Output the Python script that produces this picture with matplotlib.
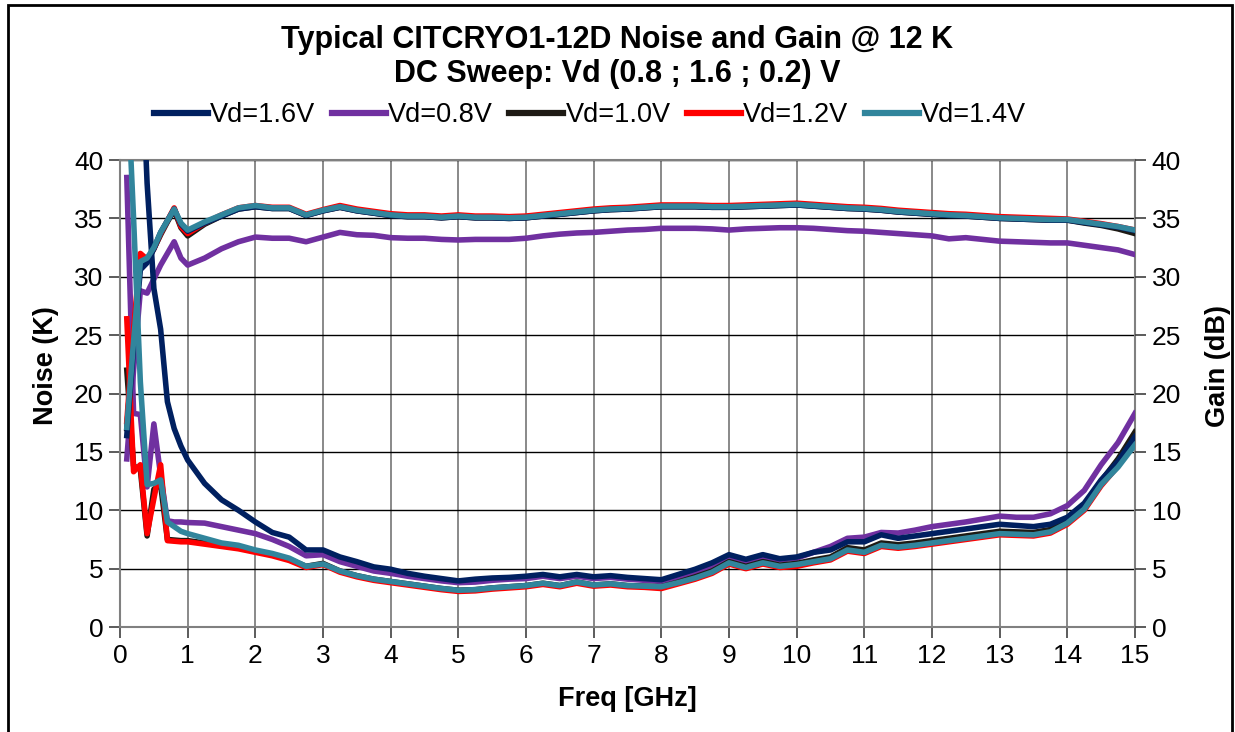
import matplotlib
matplotlib.use("Agg")
import matplotlib.pyplot as plt
from matplotlib.patches import Rectangle
from matplotlib.lines import Line2D

plt.rcParams['font.family'] = ['Liberation Sans', 'DejaVu Sans']

# frequency points (GHz)
freq = [0.1, 0.2, 0.3, 0.4, 0.5, 0.6, 0.7, 0.8, 0.9, 1.0,
        1.25, 1.5, 1.75, 2.0, 2.25, 2.5, 2.75, 3.0, 3.25, 3.5, 3.75, 4.0,
        4.25, 4.5, 4.75, 5.0, 5.25, 5.5, 5.75, 6.0, 6.25, 6.5, 6.75, 7.0,
        7.25, 7.5, 7.75, 8.0, 8.25, 8.5, 8.75, 9.0, 9.25, 9.5, 9.75, 10.0,
        10.25, 10.5, 10.75, 11.0, 11.25, 11.5, 11.75, 12.0, 12.25, 12.5, 12.75, 13.0,
        13.25, 13.5, 13.75, 14.0, 14.25, 14.5, 14.75, 15.0]

# noise temperature (K)
noise_16 = [80, 68, 52, 38, 29, 25.5, 19.3, 17.0, 15.5, 14.3,
            12.3, 10.9, 10.0, 9.0, 8.1, 7.7, 6.6, 6.6, 6.0, 5.6, 5.15, 4.95,
            4.6, 4.35, 4.15, 3.95, 4.1, 4.2, 4.25, 4.35, 4.5, 4.3, 4.5, 4.3,
            4.4, 4.25, 4.15, 4.05, 4.5, 4.95, 5.5, 6.2, 5.8, 6.2, 5.85, 6.0,
            6.4, 6.6, 7.3, 7.3, 7.9, 7.6, 7.8, 8.0, 8.2, 8.4, 8.6, 8.8,
            8.7, 8.6, 8.8, 9.4, 10.6, 12.6, 14.2, 16.3]
noise_08 = [38.5, 18.3, 18.2, 12.0, 17.4, 13.0, 9.1, 9.0, 9.0, 8.95,
            8.9, 8.6, 8.3, 8.0, 7.5, 6.9, 6.1, 6.2, 5.6, 5.2, 4.8, 4.6,
            4.35, 4.15, 3.95, 3.8, 3.85, 4.0, 4.1, 4.15, 4.35, 4.15, 4.35, 4.15,
            4.25, 4.1, 4.0, 3.9, 4.3, 4.7, 5.2, 6.0, 5.6, 6.0, 5.75, 5.9,
            6.4, 6.9, 7.6, 7.7, 8.1, 8.05, 8.3, 8.6, 8.8, 9.0, 9.25, 9.5,
            9.4, 9.4, 9.7, 10.4, 11.7, 13.9, 15.8, 18.3]
noise_10 = [22.0, 13.8, 13.5, 7.8, 11.8, 12.2, 7.5, 7.45, 7.4, 7.4,
            7.2, 7.0, 6.8, 6.5, 6.2, 5.8, 5.2, 5.45, 4.8, 4.4, 4.1, 3.9,
            3.7, 3.5, 3.3, 3.15, 3.2, 3.35, 3.45, 3.55, 3.75, 3.55, 3.85, 3.6,
            3.7, 3.55, 3.5, 3.45, 3.85, 4.3, 4.8, 5.6, 5.2, 5.6, 5.3, 5.45,
            5.75, 6.0, 6.8, 6.6, 7.2, 7.05, 7.2, 7.4, 7.6, 7.8, 8.0, 8.2,
            8.15, 8.1, 8.35, 9.1, 10.4, 12.5, 14.4, 16.7]
noise_12 = [26.4, 13.3, 13.9, 8.0, 11.0, 13.9, 7.4, 7.35, 7.3, 7.3,
            7.1, 6.9, 6.7, 6.4, 6.1, 5.7, 5.1, 5.35, 4.7, 4.3, 4.0, 3.8,
            3.6, 3.4, 3.2, 3.05, 3.1, 3.25, 3.35, 3.45, 3.65, 3.45, 3.75, 3.5,
            3.6, 3.45, 3.4, 3.3, 3.7, 4.1, 4.6, 5.4, 5.0, 5.4, 5.1, 5.2,
            5.5, 5.75, 6.5, 6.3, 6.9, 6.75, 6.9, 7.1, 7.3, 7.5, 7.7, 7.9,
            7.85, 7.8, 8.05, 8.8, 10.0, 12.1, 13.8, 15.9]
noise_14 = [48, 35, 21, 12.2, 12.3, 12.6, 9.0, 8.6, 8.2, 8.0,
            7.6, 7.2, 7.0, 6.6, 6.3, 5.9, 5.2, 5.4, 4.8, 4.4, 4.1, 3.9,
            3.7, 3.5, 3.3, 3.15, 3.2, 3.35, 3.45, 3.55, 3.75, 3.55, 3.85, 3.6,
            3.7, 3.55, 3.5, 3.45, 3.8, 4.2, 4.7, 5.5, 5.1, 5.5, 5.2, 5.35,
            5.6, 5.85, 6.6, 6.4, 7.0, 6.85, 7.0, 7.2, 7.4, 7.6, 7.8, 8.0,
            7.95, 7.9, 8.15, 8.9, 10.1, 12.2, 13.7, 15.6]

# gain (dB)
gain_16 = [16.4, 24.0, 30.6, 31.2, 32.4, 33.8, 34.8, 35.8, 34.5, 33.9,
           34.6, 35.2, 35.8, 36.0, 35.85, 35.85, 35.25, 35.65, 35.95, 35.65, 35.45, 35.25,
           35.15, 35.15, 35.05, 35.15, 35.05, 35.05, 35.0, 35.05, 35.2, 35.35, 35.5, 35.65,
           35.75, 35.8, 35.9, 36.0, 36.0, 36.0, 35.95, 35.95, 36.0, 36.05, 36.1, 36.15,
           36.05, 35.95, 35.85, 35.8, 35.7, 35.55, 35.45, 35.35, 35.25, 35.2, 35.1, 35.0,
           34.95, 34.9, 34.85, 34.85, 34.65, 34.45, 34.25, 33.95]
gain_08 = [14.4, 22.0, 28.8, 28.6, 29.8, 31.0, 32.0, 33.0, 31.6, 31.0,
           31.6, 32.4, 33.0, 33.4, 33.3, 33.3, 33.0, 33.4, 33.8, 33.6, 33.55, 33.35,
           33.3, 33.3, 33.2, 33.15, 33.2, 33.2, 33.2, 33.3, 33.5, 33.65, 33.75, 33.8,
           33.9, 34.0, 34.05, 34.15, 34.15, 34.15, 34.1, 34.0, 34.1, 34.15, 34.2, 34.2,
           34.15, 34.05, 33.95, 33.9, 33.8, 33.7, 33.6, 33.5, 33.25, 33.35, 33.2, 33.05,
           33.0, 32.95, 32.9, 32.9, 32.7, 32.5, 32.3, 31.9]
gain_10 = [17.0, 24.8, 31.6, 31.5, 32.4, 33.6, 34.7, 35.7, 34.2, 33.5,
           34.5, 35.2, 35.8, 36.0, 35.85, 35.85, 35.25, 35.65, 35.95, 35.65, 35.45, 35.25,
           35.15, 35.15, 35.05, 35.15, 35.05, 35.05, 35.0, 35.05, 35.2, 35.35, 35.5, 35.65,
           35.75, 35.8, 35.9, 36.0, 36.0, 36.0, 35.95, 35.95, 36.0, 36.05, 36.1, 36.15,
           36.05, 35.95, 35.85, 35.8, 35.7, 35.55, 35.45, 35.35, 35.25, 35.2, 35.1, 35.0,
           34.95, 34.9, 34.85, 34.85, 34.6, 34.4, 34.1, 33.7]
gain_12 = [17.6, 25.5, 32.0, 31.5, 32.4, 33.7, 34.8, 35.9, 34.3, 33.7,
           34.6, 35.3, 35.9, 36.1, 35.95, 35.95, 35.35, 35.75, 36.1, 35.8, 35.6, 35.4,
           35.3, 35.3, 35.2, 35.3, 35.2, 35.2, 35.15, 35.2, 35.35, 35.5, 35.65, 35.8,
           35.9, 35.95, 36.05, 36.15, 36.15, 36.15, 36.1, 36.1, 36.15, 36.2, 36.25, 36.3,
           36.2, 36.1, 36.0, 35.95, 35.85, 35.7, 35.6, 35.5, 35.4, 35.35, 35.25, 35.15,
           35.1, 35.05, 35.0, 34.95, 34.75, 34.55, 34.3, 34.0]
gain_14 = [17.1, 24.5, 31.3, 31.6, 32.5, 33.8, 34.8, 35.8, 34.6, 34.0,
           34.7, 35.3, 35.9, 36.1, 35.9, 35.9, 35.3, 35.7, 36.0, 35.7, 35.5, 35.3,
           35.2, 35.2, 35.1, 35.2, 35.1, 35.1, 35.05, 35.1, 35.25, 35.4, 35.55, 35.7,
           35.8, 35.85, 35.95, 36.05, 36.05, 36.05, 36.0, 36.0, 36.05, 36.1, 36.15, 36.2,
           36.1, 36.0, 35.9, 35.85, 35.75, 35.6, 35.5, 35.4, 35.3, 35.25, 35.15, 35.05,
           35.0, 34.95, 34.9, 34.9, 34.7, 34.5, 34.3, 34.0]

labels = ["Vd=1.6V", "Vd=0.8V", "Vd=1.0V", "Vd=1.2V", "Vd=1.4V"]
colors = ["#002060", "#7030A0", "#1E1A14", "#FF0000", "#31859C"]
noise = [noise_16, noise_08, noise_10, noise_12, noise_14]
gain = [gain_16, gain_08, gain_10, gain_12, gain_14]
zorders = [6, 3, 4, 5, 7]

fig = plt.figure(figsize=(12.35, 7.32), dpi=100)
ax = fig.add_axes([0.0972, 0.1434, 0.8218, 0.638])

for lab, c, n, g, z in zip(labels, colors, noise, gain, zorders):
    ax.plot(freq, n, color=c, lw=4, zorder=z, solid_joinstyle='round')
    ax.plot(freq, g, color=c, lw=4, zorder=z, solid_joinstyle='round')

ax.set_xlim(0, 15)
ax.set_ylim(0, 40)
ax.set_xticks(range(0, 16))
ax.set_yticks(range(0, 41, 5))
for x in range(1, 15):
    ax.axvline(x, color="#808080", lw=1.3, zorder=1)
for y in range(5, 41, 5):
    ax.axhline(y, color="black", lw=1.0, zorder=1)
for s in ax.spines.values():
    s.set_color("#808080")
    s.set_linewidth(1.5)
ax.tick_params(axis='both', direction='out', length=8, width=1.2, color="#404040",
               labelsize=19, pad=4)
ax.set_xlabel("Freq [GHz]", fontsize=19.5, fontweight="bold")
ax.xaxis.set_label_coords(0.5, -0.127)
ax.set_ylabel("Noise (K)", fontsize=19.5, fontweight="bold")
ax.yaxis.set_label_coords(-0.060, 0.56)

ax2 = ax.twinx()
ax2.set_ylim(0, 40)
ax2.set_yticks(range(0, 41, 5))
ax2.tick_params(axis='y', direction='out', length=8, width=1.2, color="#404040",
                labelsize=19, pad=4)
ax2.set_ylabel("Gain (dB)", fontsize=19.5, fontweight="bold")
ax2.yaxis.set_label_coords(1.069, 0.56)
for s in ax2.spines.values():
    s.set_visible(False)

fig.text(0.5, 1 - 40 / 732, "Typical CITCRYO1-12D Noise and Gain @ 12 K",
         ha="center", va="center", fontsize=22, fontweight="bold")
fig.text(0.5, 1 - 74 / 732, "DC Sweep: Vd (0.8 ; 1.6 ; 0.2) V",
         ha="center", va="center", fontsize=22, fontweight="bold")

handles = [Line2D([0], [0], color=c, lw=4.5) for c in colors]
fig.legend(handles, labels, loc="center", bbox_to_anchor=(590 / 1235, 1 - 115 / 732),
           ncol=5, frameon=False, fontsize=19.5, handlelength=2.0, handletextpad=0.08,
           columnspacing=0.6)

fig.patches.append(Rectangle((8 / 1235, -0.01), 1224 / 1235, 1 - 5 / 732 + 0.01,
                             transform=fig.transFigure, fill=False,
                             edgecolor="black", lw=2))

fig.savefig("out.png", dpi=100)
